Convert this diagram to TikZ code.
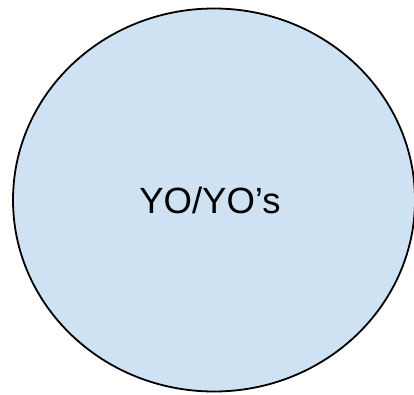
\documentclass[tikz,border=0pt]{standalone}
\usepackage{fontspec}
\setmainfont{Liberation Sans}
\usetikzlibrary{shapes.geometric}
\definecolor{paleblue}{HTML}{CFE2F3}
\begin{document}
\begin{tikzpicture}[x=1pt,y=1pt]
  \useasboundingbox (0,0) rectangle (414,394);
  \node[draw, ellipse, line width=1.8pt, fill=paleblue, inner sep=0pt,
    minimum width=402pt, minimum height=383pt,
    font=\fontsize{36.5}{40}\selectfont]
    (yoyo) at (214,194) {YO/YO’s\kern8pt};
\end{tikzpicture}
\end{document}
